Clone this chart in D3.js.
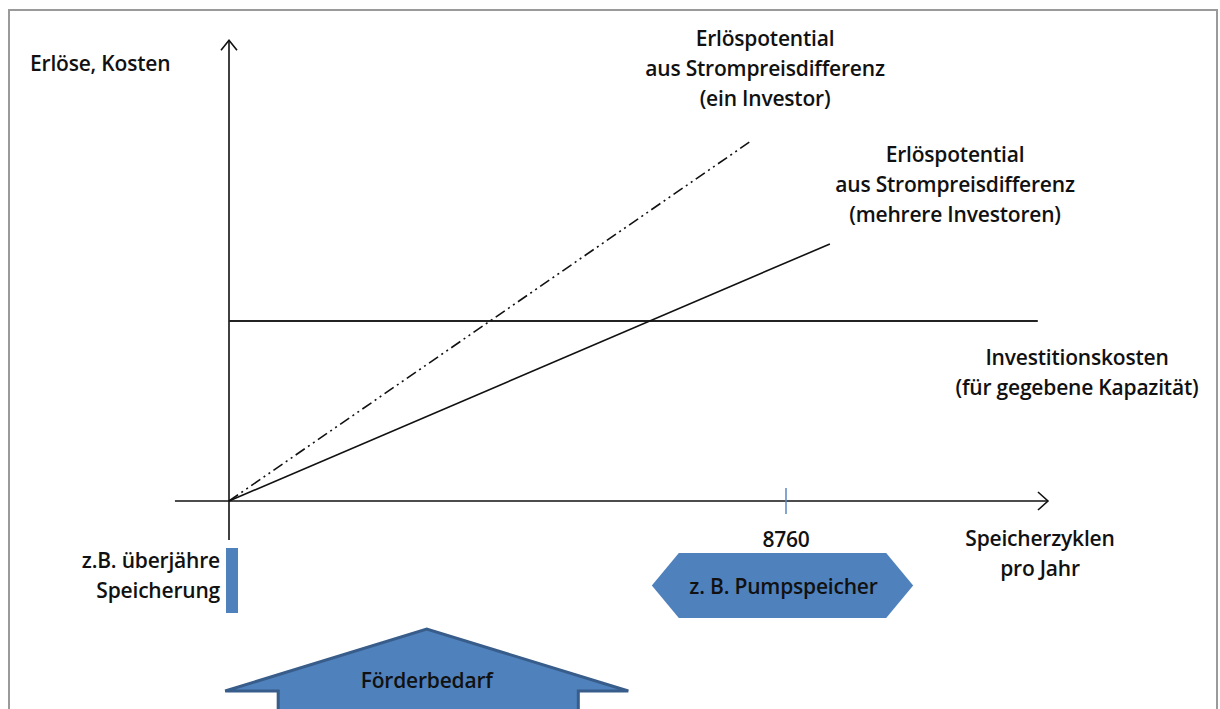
<!DOCTYPE html>
<html>

<head>
  <meta charset="utf8">
  <script src="https://d3js.org/d3.v7.min.js"></script>
  <style>
    body { margin: 0; background: #fff; }
    text { font-family: "Open Sans", Lato, sans-serif; font-size: 21px; font-weight: 600; fill: #111; letter-spacing: -0.2px; }
  </style>
</head>

<body>
  <svg id="chart" width="1220" height="709"></svg>

  <script>
    // storage cycles per year (x) vs revenue / cost (y), schematic units
    var xTicks = [8760];
    var investCost = [[0, 50], [12720, 50]];
    var revenueSingle = [[0, 0], [8210, 100]];
    var revenueMulti = [[0, 0], [9450, 71.4]];
    var pumpRange = [6650, 10760];
    var foerderRange = [-60, 6280];
    var labelsSingle = ['Erlöspotential', 'aus Strompreisdifferenz', '(ein Investor)'];
    var labelsMulti = ['Erlöspotential', 'aus Strompreisdifferenz', '(mehrere Investoren)'];
    var labelsInvest = ['Investitionskosten', '(für gegebene Kapazität)'];
    var labelsX = ['Speicherzyklen', 'pro Jahr'];
    var labelsSeasonal = ['z.B. überjähre', 'Speicherung'];

    var chart = d3.select('#chart');
    var blue = '#4f81bd';

    var x = d3.scaleLinear().domain([0, 8760]).range([229, 786]);
    var y = d3.scaleLinear().domain([0, 50]).range([501, 321]);

    // frame
    chart.append('path')
      .attr('d', 'M9,709 V10 H1217 V709')
      .attr('fill', 'none')
      .attr('stroke', '#9a9a9a')
      .attr('stroke-width', 2);

    var line = d3.line().x((d) => x(d[0])).y((d) => y(d[1]));

    // axes
    var xEnd = x(12880), yTop = y(128);
    chart.append('line')
      .attr('x1', x(-850)).attr('x2', xEnd)
      .attr('y1', y(0)).attr('y2', y(0))
      .attr('stroke', '#111').attr('stroke-width', 1.6);
    chart.append('line')
      .attr('x1', x(0)).attr('x2', x(0))
      .attr('y1', y(-10.8)).attr('y2', yTop)
      .attr('stroke', '#111').attr('stroke-width', 1.6);
    chart.append('path')
      .attr('d', 'M' + (xEnd - 10) + ',' + (y(0) - 9) + ' L' + xEnd + ',' + y(0) + ' L' + (xEnd - 10) + ',' + (y(0) + 9))
      .attr('fill', 'none').attr('stroke', '#111').attr('stroke-width', 1.6);
    chart.append('path')
      .attr('d', 'M' + (x(0) - 8) + ',' + (yTop + 10) + ' L' + x(0) + ',' + yTop + ' L' + (x(0) + 8) + ',' + (yTop + 10))
      .attr('fill', 'none').attr('stroke', '#111').attr('stroke-width', 1.6);

    // 8760 tick
    chart.selectAll('line.tick')
      .data(xTicks)
      .enter()
      .append('line')
      .attr('class', 'tick')
      .attr('x1', (d) => x(d)).attr('x2', (d) => x(d))
      .attr('y1', y(0) - 13).attr('y2', y(0) + 13)
      .attr('stroke', '#5b87bf').attr('stroke-width', 1.5);
    chart.selectAll('text.tick')
      .data(xTicks)
      .enter()
      .append('text')
      .attr('class', 'tick')
      .attr('x', (d) => x(d)).attr('y', y(0) + 46)
      .attr('text-anchor', 'middle')
      .text((d) => d);

    // series lines
    chart.append('path').datum(investCost)
      .attr('d', line).attr('fill', 'none')
      .attr('stroke', '#222').attr('stroke-width', 2);
    chart.append('path').datum(revenueMulti)
      .attr('d', line).attr('fill', 'none')
      .attr('stroke', '#111').attr('stroke-width', 1.6);
    chart.append('path').datum(revenueSingle)
      .attr('d', line).attr('fill', 'none')
      .attr('stroke', '#111').attr('stroke-width', 1.6)
      .attr('stroke-dasharray', '11,4,2,4,2,4');

    // multi-line labels
    function label(lines, cx, by, anchor) {
      var t = chart.append('text')
        .attr('text-anchor', anchor || 'middle');
      lines.forEach((s, i) => {
        t.append('tspan').attr('x', cx).attr('y', by + i * 30).text(s);
      });
      return t;
    }

    chart.append('text').attr('x', 30).attr('y', 71).text('Erlöse, Kosten');
    label(labelsSingle, 765, 46);
    label(labelsMulti, 955, 162);
    label(labelsInvest, 1077, 365);
    label(labelsX, 1040, 546);
    label(labelsSeasonal, 220, 568, 'end');

    // seasonal storage bar
    chart.append('rect')
      .attr('x', x(0) - 3).attr('y', 548)
      .attr('width', 12).attr('height', 65)
      .attr('fill', blue);

    // pumped storage hexagon
    var p0 = x(pumpRange[0]), p1 = x(pumpRange[1]);
    var hy0 = 553, hy1 = 618, hm = (hy0 + hy1) / 2;
    chart.append('polygon')
      .attr('points', [[p0, hm], [p0 + 27, hy0], [p1 - 27, hy0], [p1, hm], [p1 - 27, hy1], [p0 + 27, hy1]].join(' '))
      .attr('fill', blue);
    chart.append('text')
      .attr('x', (p0 + p1) / 2 + 1).attr('y', hm + 8)
      .attr('text-anchor', 'middle')
      .text('z. B. Pumpspeicher');

    // funding need arrow
    var f0 = x(foerderRange[0]), f1 = x(foerderRange[1]), fm = (f0 + f1) / 2;
    chart.append('polygon')
      .attr('points', [[f0, 691], [fm, 629], [f1, 691], [f1 - 50, 691], [f1 - 50, 715], [f0 + 53, 715], [f0 + 53, 691]].join(' '))
      .attr('fill', blue)
      .attr('stroke', '#385d8a')
      .attr('stroke-width', 3)
      .attr('stroke-linejoin', 'miter');
    chart.append('text')
      .attr('x', fm).attr('y', 688)
      .attr('text-anchor', 'middle')
      .text('Förderbedarf');
  </script>
</body>

</html>
